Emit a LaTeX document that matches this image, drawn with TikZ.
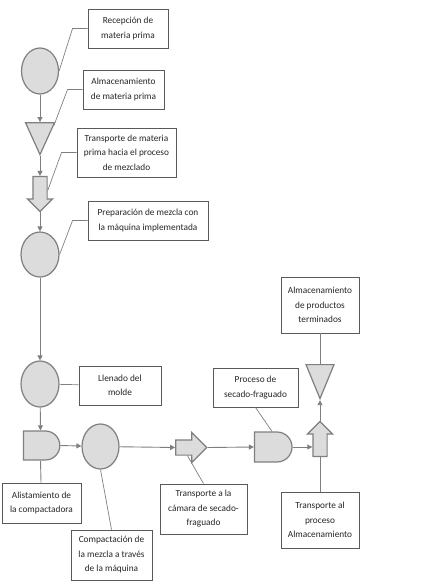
\documentclass[tikz,border=0pt]{standalone}
\usepackage{fontspec}
\setmainfont{Carlito}
\usepackage{tikz}
\usetikzlibrary{shapes.geometric,shapes.arrows,shapes.gates.logic.US,arrows.meta,calc}
\definecolor{contorno}{HTML}{7F7F7F}
\definecolor{relleno}{HTML}{DCDCDC}
\definecolor{borde}{HTML}{595959}
\definecolor{letra}{HTML}{262626}
\tikzset{every simbolo/.style={draw=contorno,fill=relleno,line width=1.2pt,inner sep=0pt}}
\tikzset{operacion/.style={ellipse,every simbolo,minimum width=37,minimum height=46}}
\tikzset{almacen/.style={isosceles triangle,isosceles triangle stretches,shape border rotate=270,every simbolo,minimum width=29,minimum height=32}}
\tikzset{transporte/.style={single arrow,every simbolo,inner sep=6.5,minimum height=35,single arrow head extend=5.5}}
\tikzset{demora/.style={and gate US,every simbolo,minimum width=29,minimum height=29}}
\tikzset{nota/.style={rectangle,draw=borde,line width=0.9pt,fill=white,align=center,text=letra,font=\fontsize{9.3}{14.5}\selectfont,inner sep=2pt}}
\tikzset{flujo/.style={draw=contorno,line width=0.9pt,-{Triangle[length=5pt,width=5pt]}}}
\tikzset{enlace/.style={draw=contorno,line width=0.9pt}}
\tikzset{guia/.style={draw=contorno,line width=0.7pt}}

\begin{document}
\begin{tikzpicture}[x=1pt,y=-1pt]
          \useasboundingbox (0,0) rectangle (421,581);
          % columna de la izquierda
          \node[operacion] (rec) at (40,71) {};
          \node[nota,minimum width=80,minimum height=39] (nrec) at (128,28.5) {Recepción de\\materia prima};
          \node[almacen] (alm) at (40,132) {} edge[flujo,{Triangle[length=5pt,width=5pt]}-] (rec);
          \node[nota,minimum width=81,minimum height=39] (nalm) at (123.5,89.5) {Almacenamiento\\de materia prima};
          \node[transporte,shape border rotate=270] (tra) at (40,190.5) {};
          \node[nota,minimum width=99,minimum height=49] (ntra) at (126.5,152.5) {Transporte de materia\\prima hacia el proceso\\de mezclado};
          \node[operacion,minimum width=38,minimum height=45] (pre) at (40,254.5) {};
          \node[nota,minimum width=120,minimum height=39] (npre) at (148,220.5) {Preparación de mezcla con\\la máquina implementada};
          \node[operacion,minimum width=38] (lle) at (40,384) {};
          \node[nota,minimum width=82,minimum height=39] (nlle) at (120,385.5) {Llenado del\\molde};
          \node[demora] (ali) at (40.5,445.5) {};
          \node[nota,minimum width=79,minimum height=40] (nali) at (41.5,503) {Alistamiento de\\la compactadora};
          % fila de abajo
          \node[operacion,minimum height=45] (com) at (100.5,446.5) {};
          \node[nota,minimum width=81,minimum height=50] (ncom) at (111.5,555) {Compactación de\\la mezcla a través\\de la máquina};
          \node[transporte,inner sep=7,minimum height=31,single arrow head extend=7.5] (tcs) at (187.5,447.5) {};
          \node[nota,minimum width=87,minimum height=50] (ntcs) at (203.5,509) {Transporte a la\\cámara de secado-\\fraguado};
          \node[demora,minimum width=30,minimum height=30] (sec) at (272,447) {};
          \node[nota,minimum width=85,minimum height=39] (nsec) at (255.5,387.5) {Proceso de\\secado-fraguado};
          \node[transporte,shape border rotate=90] (tal) at (320,442.5) {};
          \node[nota,minimum width=78,minimum height=56] (ntal) at (320,520) {Transporte al\\proceso\\Almacenamiento};
          \node[almacen,minimum width=28,minimum height=34] (apt) at (320,374) {};
          \node[nota,minimum width=78,minimum height=56] (napt) at (320,305) {Almacenamiento\\de productos\\terminados};

          % flujo del proceso
          \draw[flujo] (alm.apex) -- (tra.tail);
          \draw[flujo] (tra.tip) -- (pre);
          \draw[flujo] (pre) -- (lle);
          \draw[flujo] (lle) -- (ali.north);
          \draw[enlace] (ali.south) -- (nali);
          \draw[flujo] (ali.east) -- (com);
          \draw[flujo] (com) -- (tcs.tail);
          \draw[flujo] (tcs.tip) -- (sec.west);
          \draw[flujo] (sec.east) -- (sec.east -| tal.west);
          \draw[flujo] (tal.tip) -- (apt.apex);
          \draw[enlace] (napt) -- (apt);
          \draw[enlace] (ntal) -- (tal.tail);

          % lineas de las notas
          \draw[guia] (nrec.west) -- ++(-15,0) -- (rec.east);
          \draw[guia] (nalm.west) -- ++(-15,0) -- ($(alm.apex)!0.9!(alm.left corner)$);
          \draw[guia] (ntra.west) -- ++(-15,0) -- (tra.east);
          \draw[guia] (npre.west) -- ++(-15,0) -- (pre.east);
          \draw[guia] (lle) -- (nlle);
          \draw[guia] (com.south) -- (ncom.north);
          \draw[guia] (tcs.south) -- (ntcs.north);
          \draw[guia] (nsec.south) -- (sec.north);
\end{tikzpicture}
\end{document}
